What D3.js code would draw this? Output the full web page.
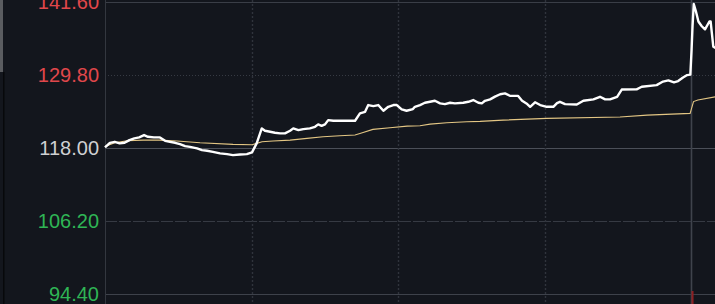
<!DOCTYPE html>
<html>
<head>
<meta charset="utf-8">
<script src="https://cdn.jsdelivr.net/npm/d3@7"></script>
<style>
  html, body { margin: 0; padding: 0; background: #13161d; overflow: hidden; }
</style>
</head>
<body>
<div id="chart"></div>
<script>
// price ticks on the left axis, previous close in the middle
const priceTicks = [141.6, 129.8, 118.0, 106.2, 94.4];
const prevClose = 118.0;
// minutes since open where vertical grid lines sit
const timeTicks = [60, 120, 180, 240];

// last price (white line), minutes since open
const minutes = [0, 2, 4, 6, 8, 10, 12, 14, 16, 17.6, 20, 22.5, 24.6, 26.6, 28.7, 30.7, 32.8, 34.8, 37.7, 39.7,
  41.8, 44.2, 47.1, 50, 52.4, 55.3, 58.1, 60.2, 62.1, 64.2, 65.5, 67.6, 69.6, 71.7, 73.7, 75.8, 77.1, 79.2, 81.2, 83.9,
  86, 87.3, 88.7, 90.1, 91.4, 93.5, 98.3, 102.4, 104.4, 106.5, 107.8, 109.9, 111.9, 114, 116, 118.1, 119.5, 121.5, 123.5, 126.1,
  126.9, 129, 131, 133.1, 135.1, 137.2, 139.2, 141.3, 143.3, 146.7, 148.8, 150.8, 152.9, 154.3, 155.6, 157.7, 159.7, 161.8, 163.8, 165.8,
  169.1, 170.8, 172.9, 174.1, 176.1, 178.2, 180.9, 183.6, 185.1, 186.3, 188.4, 193.2, 195.9, 200, 202.7, 204.8, 206.8, 209.7, 211.6, 217.7,
  219.8, 225.9, 228.5, 230.7, 233, 234.7, 236.7, 238.4, 239.7, 240.2, 240.6, 241.1, 242, 243, 244.3, 245.7, 247.5, 248, 249.1, 250];
const price = [118.10, 118.84, 119.00, 118.74, 118.84, 119.28, 119.55, 119.71, 120.09, 119.81, 119.71, 119.71, 119.16, 119.00, 118.84, 118.63, 118.31, 118.19, 117.93, 117.66,
  117.55, 117.38, 117.13, 117.01, 116.85, 116.96, 117.01, 117.29, 118.74, 121.17, 120.78, 120.62, 120.46, 120.36, 120.36, 120.78, 121.17, 120.89, 121.06, 121.17,
  121.43, 121.82, 121.59, 121.82, 122.51, 122.40, 122.40, 122.40, 123.60, 123.85, 124.94, 124.78, 124.94, 124.02, 124.66, 124.94, 124.94, 124.24, 124.02, 124.29,
  124.66, 124.94, 125.31, 125.47, 125.63, 125.21, 125.10, 125.31, 125.21, 125.31, 125.47, 125.75, 125.31, 125.21, 125.63, 125.86, 126.31, 126.69, 126.83, 126.44,
  126.43, 125.63, 125.10, 124.66, 125.39, 124.94, 124.66, 124.66, 125.26, 125.47, 125.10, 125.02, 125.63, 125.86, 126.28, 125.86, 125.86, 126.28, 127.45, 127.48,
  127.90, 128.17, 128.74, 128.93, 128.61, 128.82, 129.39, 129.79, 129.87, 133.84, 137.72, 141.28, 140.06, 138.45, 137.72, 137.18, 138.45, 138.45, 134.37, 134.16];

// average price (yellow line)
const avgMinutes = [0, 4, 9, 15.6, 22.5, 29.5, 38.9, 52.4, 60.2, 61.8, 64.3, 68.8, 75.8, 82.7, 89.3, 96.2, 102.4, 105.7, 109.7, 116.7,
  123.7, 129, 133.1, 140, 148.2, 153.6, 163, 181, 210.9, 222, 239.6, 241, 242.8, 250];
const avgPrice = [118.23, 118.84, 119.16, 119.28, 119.28, 119.12, 118.84, 118.58, 118.52, 118.71, 119.00, 119.12, 119.28, 119.55, 119.81, 119.97, 120.09, 120.52, 121.01, 121.27,
  121.54, 121.59, 121.86, 122.08, 122.24, 122.30, 122.51, 122.79, 123.00, 123.32, 123.60, 125.50, 125.75, 126.28];

// volume bar peeking in at the bottom
const volMinutes = [240.6];

const width = 715, height = 304;

const svg = d3.select('#chart')
  .append('svg')
    .attr('width', width)
    .attr('height', height)
    .style('display', 'block')
    .style('background', '#13161d');

const x = d3.scaleLinear().domain([0, 250]).range([105, 715.5]);
const y = d3.scaleLinear().domain([94.4, 141.6]).range([294, 2]);

// left edge scroll strip
svg.append('rect').attr('x', 0).attr('y', 0).attr('width', 3).attr('height', 72).attr('fill', '#5a5c60');
svg.append('rect').attr('x', 3).attr('y', 72).attr('width', 1.5).attr('height', height - 72).attr('fill', '#07080b');

// horizontal grid, each row styled on its own
const rowStyle = {
  141.6: {c: '#3a3e47', d: null},
  129.8: {c: '#363a43', d: '1,2'},
  118.0: {c: '#4b4f58', d: null},
  106.2: {c: '#363a43', d: '12,2'},
  94.4: {c: '#3e424b', d: null}
};
svg.append('g')
  .selectAll('line')
  .data(priceTicks)
  .enter().append('line')
    .attr('x1', x(0)).attr('x2', width)
    .attr('y1', d => Math.round(y(d)) + 0.5)
    .attr('y2', d => Math.round(y(d)) + 0.5)
    .attr('stroke', d => rowStyle[d].c)
    .attr('stroke-width', 1.2)
    .attr('stroke-dasharray', d => rowStyle[d].d);

// vertical grid
svg.append('line')
  .attr('x1', x(0) + 0.5).attr('x2', x(0) + 0.5)
  .attr('y1', 0).attr('y2', height)
  .attr('stroke', '#33373f');
svg.append('g')
  .selectAll('line')
  .data(timeTicks)
  .enter().append('line')
    .attr('x1', d => Math.round(x(d)) + 0.5)
    .attr('x2', d => Math.round(x(d)) + 0.5)
    .attr('y1', 0).attr('y2', height)
    .attr('stroke', d => d === 240 ? '#3f434c' : '#30343c')
    .attr('stroke-width', d => d === 240 ? 1.6 : 1.4)
    .attr('stroke-dasharray', d => d === 240 ? null : '2,2');

// volume
svg.append('g')
  .selectAll('rect')
  .data(volMinutes)
  .enter().append('rect')
    .attr('x', d => x(d) - 1)
    .attr('y', y(94.4) - 3)
    .attr('width', 2)
    .attr('height', height - y(94.4) + 3)
    .attr('fill', '#8e1f22');

// axis labels
svg.append('g')
  .selectAll('text')
  .data(priceTicks)
  .enter().append('text')
    .attr('x', 99)
    .attr('y', d => y(d))
    .attr('dy', '0.36em')
    .attr('text-anchor', 'end')
    .style('font-family', '"Liberation Sans", Arial, sans-serif')
    .style('font-size', '20px')
    .attr('fill', d => d > prevClose ? '#e0474b' : (d < prevClose ? '#2fb555' : '#cfd0d2'))
    .text(d => d.toFixed(2));

// average price line
svg.append('path')
  .datum(avgMinutes.map((m, i) => [m, avgPrice[i]]))
  .attr('fill', 'none')
  .attr('stroke', '#e3c684')
  .attr('stroke-width', 1.1)
  .attr('d', d3.line().x(d => x(d[0])).y(d => y(d[1])));

// last price line
svg.append('path')
  .datum(minutes.map((m, i) => [m, price[i]]))
  .attr('fill', 'none')
  .attr('stroke', '#ffffff')
  .attr('stroke-width', 2.4)
  .attr('stroke-linejoin', 'round')
  .attr('d', d3.line().x(d => x(d[0])).y(d => y(d[1])));
</script>
</body>
</html>
